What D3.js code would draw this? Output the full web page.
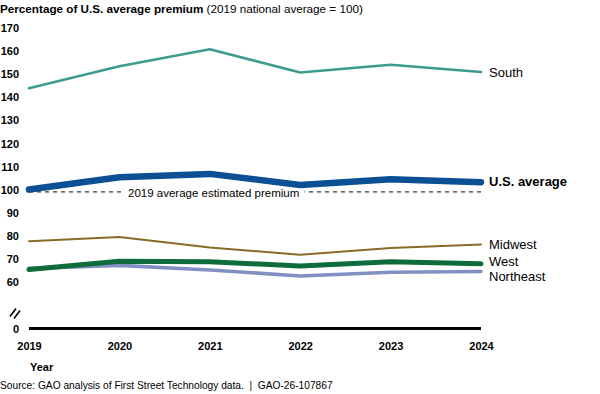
<!doctype html>
<html>
<head>
<meta charset="UTF-8" />
<script src="https://cdn.jsdelivr.net/npm/d3@7"></script>
<style>
  body { margin: 0; background: #fff; }
  svg { display: block; font-family: Arial, "Liberation Sans", sans-serif; }
</style>
</head>
<body>
<svg id="chart" width="600" height="394"></svg>
<script>
// data
const years = [2019, 2020, 2021, 2022, 2023, 2024];
const south     = [144, 153.5, 160.9, 150.8, 154.2, 151];
const usAverage = [100, 105.3, 106.8, 102, 104.5, 103.2];
const midwest   = [77.6, 79.4, 74.8, 71.7, 74.6, 76.2];
const west      = [65.3, 68.9, 68.7, 66.8, 68.7, 67.8];
const northeast = [65.8, 67.1, 65.1, 62.5, 64.1, 64.4];
const baseline2019 = 99;
const yTicks = [0, 60, 70, 80, 90, 100, 110, 120, 130, 140, 150, 160, 170];

// how each series is drawn
const series = [
  { name: "South",        values: south,     color: "#3e9b90", width: 2.6, bold: false, dy: 0 },
  { name: "Midwest",      values: midwest,   color: "#8a6a2b", width: 2,   bold: false, dy: 0 },
  { name: "Northeast",    values: northeast, color: "#8190c2", width: 3.6, bold: false, dy: 4.5 },
  { name: "West",         values: west,      color: "#0e6c3a", width: 5,   bold: false, dy: -2 },
  { name: "U.S. average", values: usAverage, color: "#0b4f95", width: 6.5, bold: true,  dy: -1 }
];

const svg = d3.select("#chart");
const font = 'Arial, "Liberation Sans", sans-serif';

const x = d3.scalePoint().domain(years).range([29, 481]);
// broken axis: 0 sits below a gap under 60
const y = d3.scaleLinear().domain([0, 60, 170]).range([328.5, 281.7, 28.3]);

// title
const title = svg.append("text").attr("x", 0).attr("y", 12.5)
  .attr("font-size", 11.7).attr("fill", "#000");
title.append("tspan").attr("font-weight", "bold").text("Percentage of U.S. average premium");
title.append("tspan").text(" (2019 national average = 100)");

// y axis labels
const yAxis = svg.append("g").attr("transform", "translate(19,0)")
  .call(d3.axisLeft(y).tickValues(yTicks).tickSize(0).tickPadding(0));
yAxis.select(".domain").remove();
yAxis.selectAll("text").attr("font-size", 11).attr("font-weight", "bold")
  .attr("font-family", font).attr("fill", "#000");

// x axis labels
const xAxis = svg.append("g").attr("transform", "translate(0," + y(0) + ")")
  .call(d3.axisBottom(x).tickSize(0).tickPadding(14));
xAxis.select(".domain").remove();
xAxis.selectAll("text").attr("font-size", 11).attr("font-weight", "bold")
  .attr("font-family", font).attr("fill", "#000");

// zero line
svg.append("line")
  .attr("x1", x(years[0])).attr("x2", x(years[years.length - 1]))
  .attr("y1", y(0)).attr("y2", y(0))
  .attr("stroke", "#000").attr("stroke-width", 3);

// axis break marks
const by = y(0) - 19;
[0, 4].forEach(function (off) {
  svg.append("line")
    .attr("x1", 10 + off).attr("y1", by + 7 + off * 0.5)
    .attr("x2", 16 + off).attr("y2", by - 1 + off * 0.5)
    .attr("stroke", "#000").attr("stroke-width", 1.6);
});

// 2019 average dashed reference
svg.append("line")
  .attr("x1", x(years[0])).attr("x2", x(years[years.length - 1]))
  .attr("y1", y(baseline2019)).attr("y2", y(baseline2019))
  .attr("stroke", "#333").attr("stroke-width", 1.3)
  .attr("stroke-dasharray", "4,4");

const refBg = svg.append("rect").attr("fill", "#fff");
const refText = svg.append("text")
  .attr("x", 128).attr("y", y(baseline2019) + 5.5)
  .attr("font-size", 11.5).attr("fill", "#000")
  .text("2019 average estimated premium");
const bb = refText.node().getBBox();
refBg.attr("x", bb.x - 5).attr("y", bb.y + 2)
  .attr("width", bb.width + 10).attr("height", bb.height - 4);

// series lines
const line = d3.line()
  .x(function (d, i) { return x(years[i]); })
  .y(function (d) { return y(d); });

series.forEach(function (s) {
  svg.append("path")
    .attr("d", line(s.values))
    .attr("fill", "none")
    .attr("stroke", s.color)
    .attr("stroke-width", s.width)
    .attr("stroke-linecap", "round")
    .attr("stroke-linejoin", "round");

  svg.append("text")
    .attr("x", x(years[years.length - 1]) + 8)
    .attr("y", y(s.values[s.values.length - 1]) + s.dy)
    .attr("dy", "0.35em")
    .attr("font-size", 13)
    .attr("font-weight", s.bold ? "bold" : "normal")
    .attr("fill", "#000")
    .text(s.name);
});

// axis title and source
svg.append("text").attr("x", 30).attr("y", 371)
  .attr("font-size", 11).attr("font-weight", "bold").attr("fill", "#000")
  .text("Year");

svg.append("text").attr("x", 0).attr("y", 389)
  .attr("font-size", 10.2).attr("fill", "#000")
  .style("white-space", "pre")
  .text("Source: GAO analysis of First Street Technology data.  |  GAO-26-107867");
</script>
</body>
</html>
